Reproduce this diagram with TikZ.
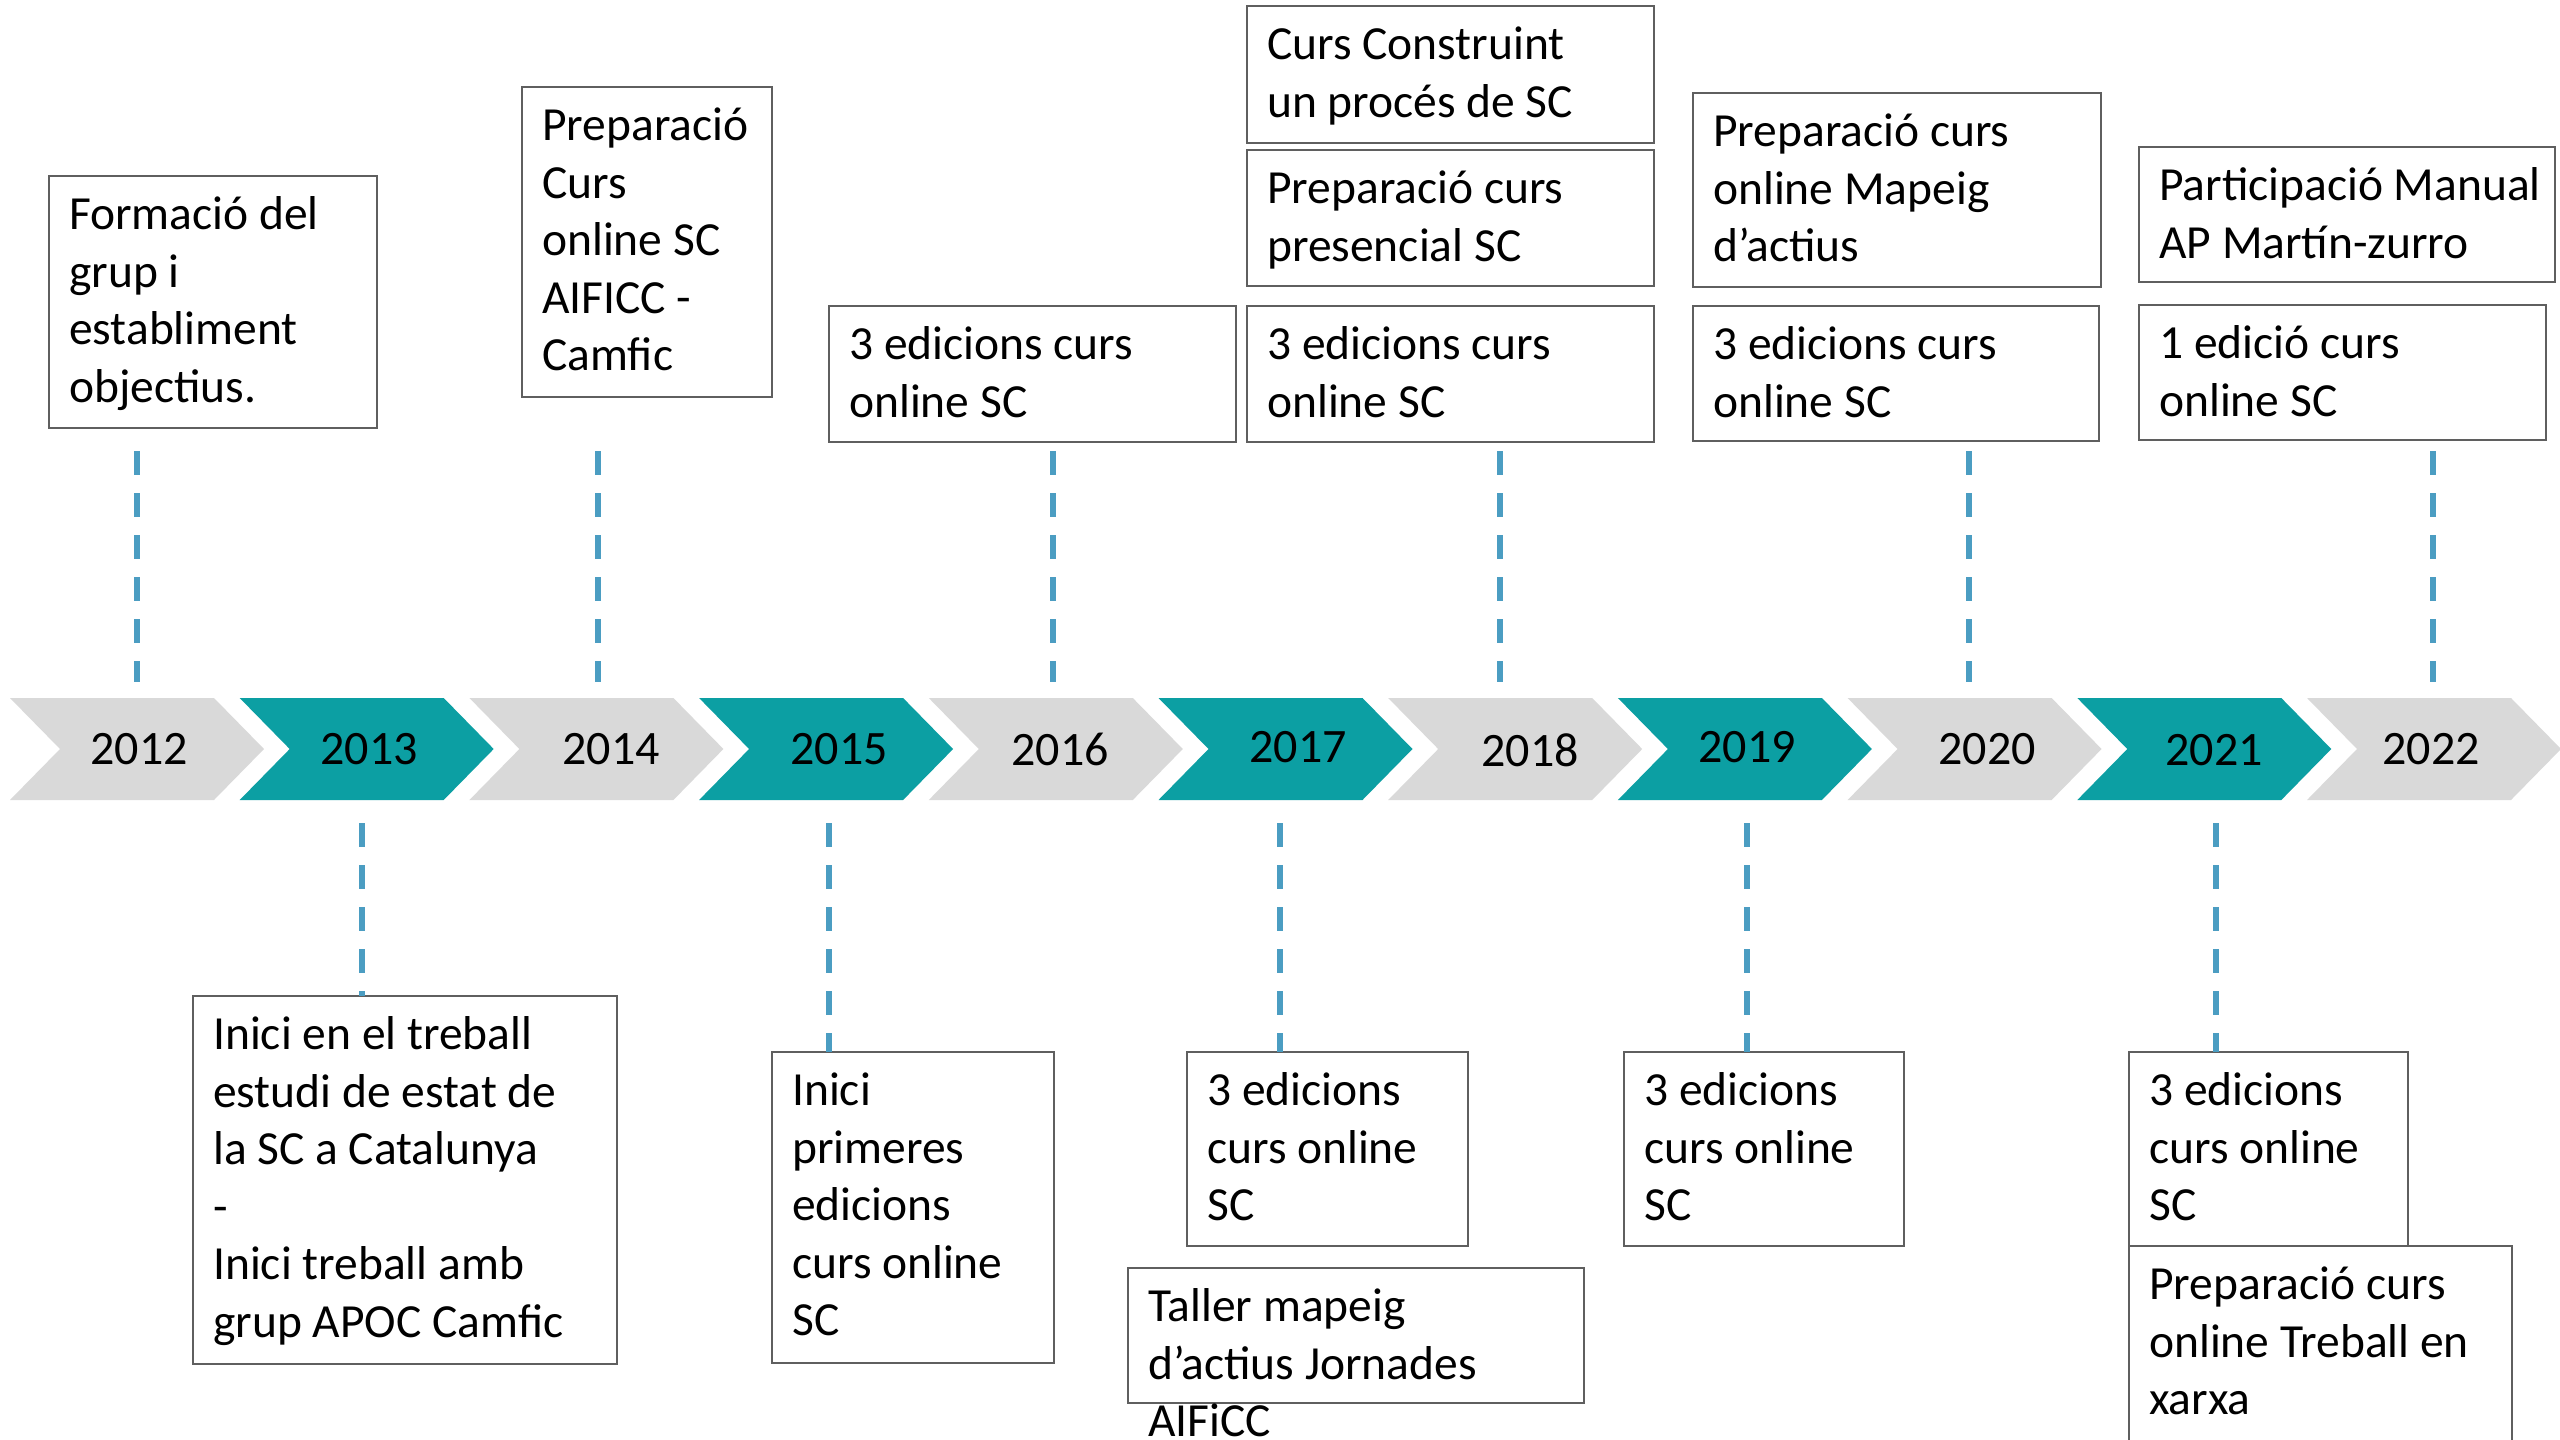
\documentclass[tikz,border=0pt]{standalone}
\usepackage{fontspec}
\setmainfont{Carlito}
\usetikzlibrary{calc}
\definecolor{tealc}{RGB}{12,159,163}
\definecolor{grayc}{RGB}{217,217,217}
\definecolor{dashblue}{RGB}{75,157,194}
\definecolor{boxgray}{RGB}{95,95,95}
\newcommand\evfont{\fontsize{47.5}{57.5}\selectfont}
\newcommand\fst{\rule{0pt}{42pt}}
\newcommand\mkbox[6]{%
  \node[evbox,minimum width=#4pt,minimum height=#5pt] (#1) at (#2,#3) {};
  \node[evtext] (#1t) at ($(#1.north west)+(20,11.5)$) {\fst #6};}
\newcommand\chev[2]{%
  \fill[#2] (#1,698) -- ({#1+204},698) -- ({#1+254},749) -- ({#1+204},800) -- (#1,800) -- ({#1+50},749) -- cycle;}
\begin{document}
\begin{tikzpicture}[x=1pt,y=-1pt,
  evbox/.style={draw=boxgray,line width=2.5pt,fill=white,inner sep=0pt,outer sep=0pt,anchor=north west,rectangle},
  evtext/.style={anchor=north west,align=left,inner sep=0pt,font=\evfont},
  yeartext/.style={font=\fontsize{48}{58}\selectfont,inner sep=0pt},
  dashtick/.style={draw=dashblue,line width=6pt,dash pattern=on 24pt off 18pt}
]
\useasboundingbox (0,0) rectangle (2560,1440);
\fill[white] (0,0) rectangle (2560,1440);

% chevrons
\foreach \i in {0,...,10}{
  \pgfmathsetmacro\xo{10+\i*229.7}
  \ifodd\i \chev{\xo}{tealc}\else \chev{\xo}{grayc}\fi
}
% years
\node[yeartext] (y2012) at (139,749) {2012};
\node[yeartext] (y2013) at (369,749) {2013};
\node[yeartext] (y2014) at (611,749) {2014};
\node[yeartext] (y2015) at (839,749) {2015};
\node[yeartext] (y2016) at (1060,749) {2016};
\node[yeartext] (y2017) at (1298,747) {2017};
\node[yeartext] (y2018) at (1530,750) {2018};
\node[yeartext] (y2019) at (1747,747) {2019};
\node[yeartext] (y2020) at (1987,749) {2020};
\node[yeartext] (y2021) at (2214,750) {2021};
\node[yeartext] (y2022) at (2431,749) {2022};

% top boxes
\mkbox{A}{49}{176}{328}{252}{Formació del\\grup i\\establiment\\objectius.}
\mkbox{B}{522}{87}{250}{310}{Preparació\\Curs\\online SC\\AIFICC -\\Camfic}
\mkbox{C}{829}{306}{407}{136}{3 edicions curs\\online SC}
\mkbox{Da}{1247}{6}{407}{137}{Curs Construint\\un procés de SC}
\mkbox{Db}{1247}{150}{407}{136}{Preparació curs\\presencial SC}
\mkbox{Dc}{1247}{306}{407}{136}{3 edicions curs\\online SC}
\mkbox{Ea}{1693}{93}{408}{194}{Preparació curs\\online Mapeig\\d’actius}
\mkbox{Eb}{1693}{306}{406}{135}{3 edicions curs\\online SC}
\mkbox{Fa}{2139}{147}{416}{135}{Participació Manual\\AP Martín-zurro}
\mkbox{Fb}{2139}{305}{407}{135}{1 edició curs\\online SC}

% bottom boxes
\mkbox{G}{193}{996}{424}{368}{Inici en el treball\\estudi de estat de\\la SC a Catalunya\\-\\Inici treball amb\\grup APOC Camfic}
\mkbox{H}{772}{1052}{282}{311}{Inici\\primeres\\edicions\\curs online\\SC}
\mkbox{I}{1187}{1052}{281}{194}{3 edicions\\curs online\\SC}
\mkbox{J}{1624}{1052}{280}{194}{3 edicions\\curs online\\SC}
\mkbox{K}{2129}{1052}{279}{194}{3 edicions\\curs online\\SC}
\mkbox{L}{2129}{1246}{383}{200}{Preparació curs\\online Treball en\\xarxa}
\mkbox{M}{1128}{1268}{456}{135}{Taller mapeig\\d’actius Jornades\\AIFiCC}

% top dashed ticks
\foreach \nm/\xx in {t2012/137,t2014/598,t2016/1053,t2018/1500,t2020/1969,t2022/2433}{
  \coordinate (\nm a) at (\xx,451);
  \coordinate (\nm b) at (\xx,682);
  \draw[dashtick] (\nm a) -- (\nm b);
}
% bottom dashed ticks
\coordinate (b2013) at (362,823);
\coordinate (b2015) at (829,823);
\coordinate (b2017) at (1280,823);
\coordinate (b2019) at (1747,823);
\coordinate (b2021) at (2216,823);
\draw[dashtick] (b2013) -- (b2013 |- G.north);
\draw[dashtick] (b2015) -- (b2015 |- H.north);
\draw[dashtick] (b2017) -- (b2017 |- I.north);
\draw[dashtick] (b2019) -- (b2019 |- J.north);
\draw[dashtick] (b2021) -- (b2021 |- K.north);
\end{tikzpicture}
\end{document}
